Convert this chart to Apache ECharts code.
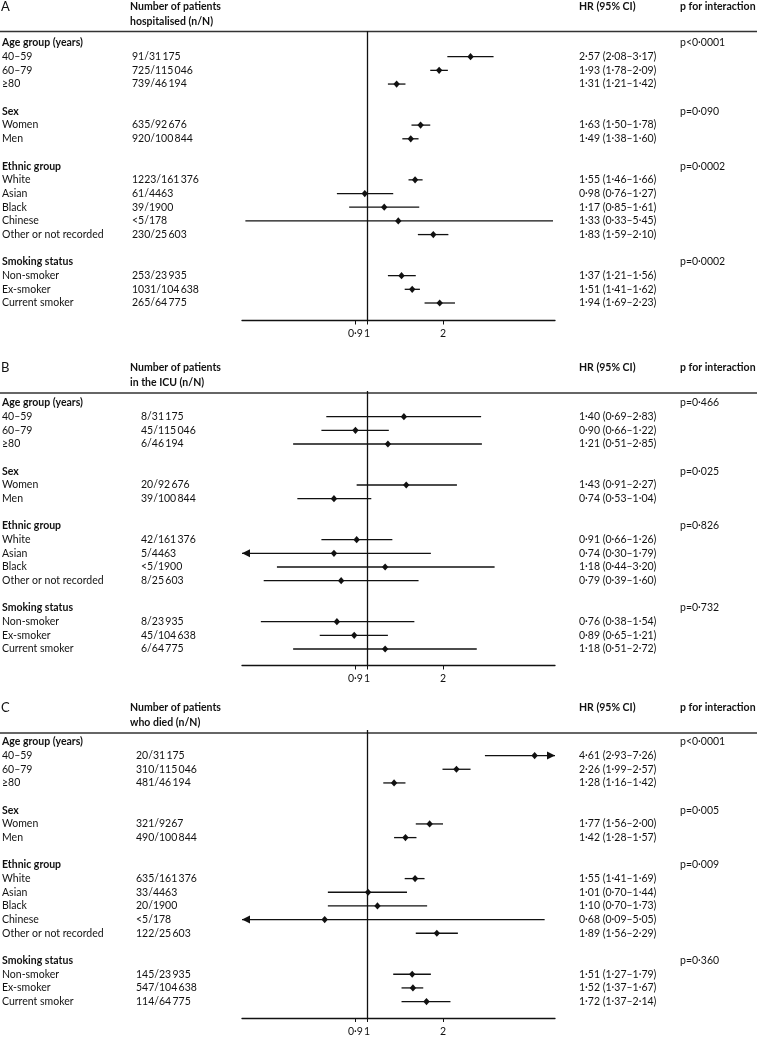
<!DOCTYPE html>
<html><head><meta charset="utf-8">
<script src="https://cdn.jsdelivr.net/npm/echarts@6/dist/echarts.min.js"></script>
<style>html,body{margin:0;padding:0;background:#fff}#c{width:757px;height:1037px}</style>
</head><body><div id="c"></div><script>
// ---------- data ----------
const panelLetters = ['A', 'B', 'C'];
const countHeaders = [
  ['Number of patients', 'hospitalised (n/N)'],
  ['Number of patients', 'in the ICU (n/N)'],
  ['Number of patients', 'who died (n/N)']
];
const groupTitles = ['Age group (years)', 'Sex', 'Ethnic group', 'Smoking status'];

const subgroupsA = [['40–59', '60–79', '≥80'], ['Women', 'Men'], ['White', 'Asian', 'Black', 'Chinese', 'Other or not recorded'], ['Non-smoker', 'Ex-smoker', 'Current smoker']];
const subgroupsB = [['40–59', '60–79', '≥80'], ['Women', 'Men'], ['White', 'Asian', 'Black', 'Other or not recorded'], ['Non-smoker', 'Ex-smoker', 'Current smoker']];
const subgroupsC = [['40–59', '60–79', '≥80'], ['Women', 'Men'], ['White', 'Asian', 'Black', 'Chinese', 'Other or not recorded'], ['Non-smoker', 'Ex-smoker', 'Current smoker']];

const countsA = ['91/31\u2009175', '725/115\u2009046', '739/46\u2009194', '635/92\u2009676', '920/100\u2009844', '1223/161\u2009376', '61/4463', '39/1900', '<5/178', '230/25\u2009603', '253/23\u2009935', '1031/104\u2009638', '265/64\u2009775'];
const hrA    = [2.57, 1.93, 1.31, 1.63, 1.49, 1.55, 0.98, 1.17, 1.33, 1.83, 1.37, 1.51, 1.94];
const lowerA = [2.08, 1.78, 1.21, 1.50, 1.38, 1.46, 0.76, 0.85, 0.33, 1.59, 1.21, 1.41, 1.69];
const upperA = [3.17, 2.09, 1.42, 1.78, 1.60, 1.66, 1.27, 1.61, 5.45, 2.10, 1.56, 1.62, 2.23];
const pValuesA = ['p<0·0001', 'p=0·090', 'p=0·0002', 'p=0·0002'];

const countsB = ['8/31\u2009175', '45/115\u2009046', '6/46\u2009194', '20/92\u2009676', '39/100\u2009844', '42/161\u2009376', '5/4463', '<5/1900', '8/25\u2009603', '8/23\u2009935', '45/104\u2009638', '6/64\u2009775'];
const hrB    = [1.40, 0.90, 1.21, 1.43, 0.74, 0.91, 0.74, 1.18, 0.79, 0.76, 0.89, 1.18];
const lowerB = [0.69, 0.66, 0.51, 0.91, 0.53, 0.66, 0.30, 0.44, 0.39, 0.38, 0.65, 0.51];
const upperB = [2.83, 1.22, 2.85, 2.27, 1.04, 1.26, 1.79, 3.20, 1.60, 1.54, 1.21, 2.72];
const pValuesB = ['p=0·466', 'p=0·025', 'p=0·826', 'p=0·732'];

const countsC = ['20/31\u2009175', '310/115\u2009046', '481/46\u2009194', '321/9267', '490/100\u2009844', '635/161\u2009376', '33/4463', '20/1900', '<5/178', '122/25\u2009603', '145/23\u2009935', '547/104\u2009638', '114/64\u2009775'];
const hrC    = [4.61, 2.26, 1.28, 1.77, 1.42, 1.55, 1.01, 1.10, 0.68, 1.89, 1.51, 1.52, 1.72];
const lowerC = [2.93, 1.99, 1.16, 1.56, 1.28, 1.41, 0.70, 0.70, 0.09, 1.56, 1.27, 1.37, 1.37];
const upperC = [7.26, 2.57, 1.42, 2.00, 1.57, 1.69, 1.44, 1.73, 5.05, 2.29, 1.79, 1.67, 2.14];
const pValuesC = ['p<0·0001', 'p=0·005', 'p=0·009', 'p=0·360'];

const tickValues = [0.9, 1, 2];
const axisMin = 0.32, axisMax = 5.55;

// ---------- layout ----------
const FONT = 'Lato';
const INK = '#111';
const layout = [
  { row0: 43,  lastY: 303,  axisY: 320.5,  headY: 7,   ruleY: 31.5, countX: 132 },
  { row0: 403, lastY: 649,  axisY: 665.5,  headY: 368, ruleY: 393,  countX: 141 },
  { row0: 742, lastY: 1003, axisY: 1019.5, headY: 708, ruleY: 733,  countX: 136 }
];
const panels = [
  { sub: subgroupsA, counts: countsA, hr: hrA, lo: lowerA, hi: upperA, p: pValuesA },
  { sub: subgroupsB, counts: countsB, hr: hrB, lo: lowerB, hi: upperB, p: pValuesB },
  { sub: subgroupsC, counts: countsC, hr: hrC, lo: lowerC, hi: upperC, p: pValuesC }
];
const fmt = v => v.toFixed(2).replace('.', '·');

function buildRows(sub) {
  const rows = []; let r = 0, k = 0;
  sub.forEach((items, gi) => {
    rows.push({ row: r++, type: 'g', gi });
    items.forEach(lbl => { rows.push({ row: r++, type: 'i', gi, k: k++, lbl }); });
    r++;
  });
  return rows;
}

function forestRender(params, api) {
  const hr = api.value(0), row = api.value(1), lo = api.value(2), hi = api.value(3);
  const y = api.coord([1, row])[1];
  const xl = api.coord([Math.max(lo, axisMin), row])[0];
  const xr = api.coord([Math.min(hi, axisMax), row])[0];
  const xc = api.coord([hr, row])[0];
  const kids = [{
    type: 'line', shape: { x1: xl, y1: y, x2: xr, y2: y },
    style: { stroke: INK, lineWidth: 1.3 }
  }];
  if (hi > axisMax) kids.push({ type: 'polygon', shape: { points: [[xr, y], [xr - 8, y - 4], [xr - 8, y + 4]] }, style: { fill: INK } });
  if (lo < axisMin) kids.push({ type: 'polygon', shape: { points: [[xl, y], [xl + 8, y - 4], [xl + 8, y + 4]] }, style: { fill: INK } });
  kids.push({ type: 'polygon', shape: { points: [[xc, y - 3.6], [xc + 3.2, y], [xc, y + 3.6], [xc - 3.2, y]] }, style: { fill: INK } });
  return { type: 'group', children: kids };
}

function makeTextRender(p, rows, L) {
  return function (params, api) {
    const r = rows[api.value(2)];
    const y = api.coord([1, r.row])[1];
    const base = { fontFamily: FONT, fontSize: 10.5, fill: INK, verticalAlign: 'middle', align: 'left' };
    const kids = [];
    if (r.type === 'g') {
      kids.push({ type: 'text', style: Object.assign({}, base, { x: 2, y, text: groupTitles[r.gi], fontWeight: 'bold' }) });
      kids.push({ type: 'text', style: Object.assign({}, base, { x: 680, y, text: p.p[r.gi] }) });
    } else {
      kids.push({ type: 'text', style: Object.assign({}, base, { x: 2, y, text: r.lbl }) });
      kids.push({ type: 'text', style: Object.assign({}, base, { x: L.countX, y, text: p.counts[r.k] }) });
      kids.push({ type: 'text', style: Object.assign({}, base, { x: 579, y, text: fmt(p.hr[r.k]) + ' (' + fmt(p.lo[r.k]) + '–' + fmt(p.hi[r.k]) + ')' }) });
    }
    return { type: 'group', children: kids };
  };
}

const grids = [], xAxes = [], yAxes = [], series = [], graphics = [];
panels.forEach((p, i) => {
  const L = layout[i];
  const rows = buildRows(p.sub);
  const nRows = rows[rows.length - 1].row;
  const rowH = (L.lastY - L.row0) / nRows;
  const ymin = -0.87;
  const top = L.row0 + ymin * rowH;
  const ymax = nRows + (L.axisY - L.lastY) / rowH;
  grids.push({ left: 242, width: 313, top: top, height: L.axisY - top });
  xAxes.push({
    type: 'log', gridIndex: i, min: axisMin, max: axisMax, logBase: 10, position: 'bottom',
    axisLine: { show: true, onZero: false, lineStyle: { color: INK, width: 1.3 } },
    axisTick: { show: true, customValues: tickValues, length: 4, lineStyle: { color: INK, width: 1 } },
    minorTick: { show: false },
    axisLabel: { customValues: tickValues, margin: 8, color: INK, fontFamily: FONT, fontSize: 10.5,
      formatter: v => String(+Number(v).toFixed(2)).replace('.', '·') },
    splitLine: { show: false }
  });
  yAxes.push({ type: 'value', gridIndex: i, inverse: true, min: ymin, max: ymax, show: false });
  const items = rows.filter(r => r.type === 'i');
  series.push({
    type: 'custom', xAxisIndex: i, yAxisIndex: i, silent: true, clip: false,
    data: items.map(r => [p.hr[r.k], r.row, p.lo[r.k], p.hi[r.k]]),
    renderItem: forestRender,
    markLine: { silent: true, symbol: 'none', label: { show: false },
      lineStyle: { color: INK, width: 1.3, type: 'solid' }, data: [{ xAxis: 1 }] }
  });
  series.push({
    type: 'custom', xAxisIndex: i, yAxisIndex: i, silent: true, clip: false,
    data: rows.map((r, j) => [1, r.row, j]),
    renderItem: makeTextRender(p, rows, L)
  });
  const hs = { fontFamily: FONT, fontSize: 10.5, fill: INK, verticalAlign: 'middle', align: 'left', fontWeight: 'bold' };
  graphics.push({ type: 'text', x: 1, y: L.headY, style: Object.assign({}, hs, { text: panelLetters[i], fontSize: 13, fontWeight: 'normal' }) });
  graphics.push({ type: 'text', x: 130, y: L.headY, style: Object.assign({}, hs, { text: countHeaders[i][0] }) });
  graphics.push({ type: 'text', x: 130, y: L.headY + 14.5, style: Object.assign({}, hs, { text: countHeaders[i][1] }) });
  graphics.push({ type: 'text', x: 579, y: L.headY, style: Object.assign({}, hs, { text: 'HR (95% CI)' }) });
  graphics.push({ type: 'text', x: 680, y: L.headY, style: Object.assign({}, hs, { text: 'p for interaction' }) });
  graphics.push({ type: 'line', shape: { x1: 0, y1: L.ruleY, x2: 757, y2: L.ruleY }, style: { stroke: '#333', lineWidth: 1.4 } });
});

const chart = echarts.init(document.getElementById('c'), null, { renderer: 'canvas' });
chart.setOption({
  animation: false,
  backgroundColor: '#fff',
  grid: grids, xAxis: xAxes, yAxis: yAxes, series: series, graphic: graphics
});
</script></body></html>
